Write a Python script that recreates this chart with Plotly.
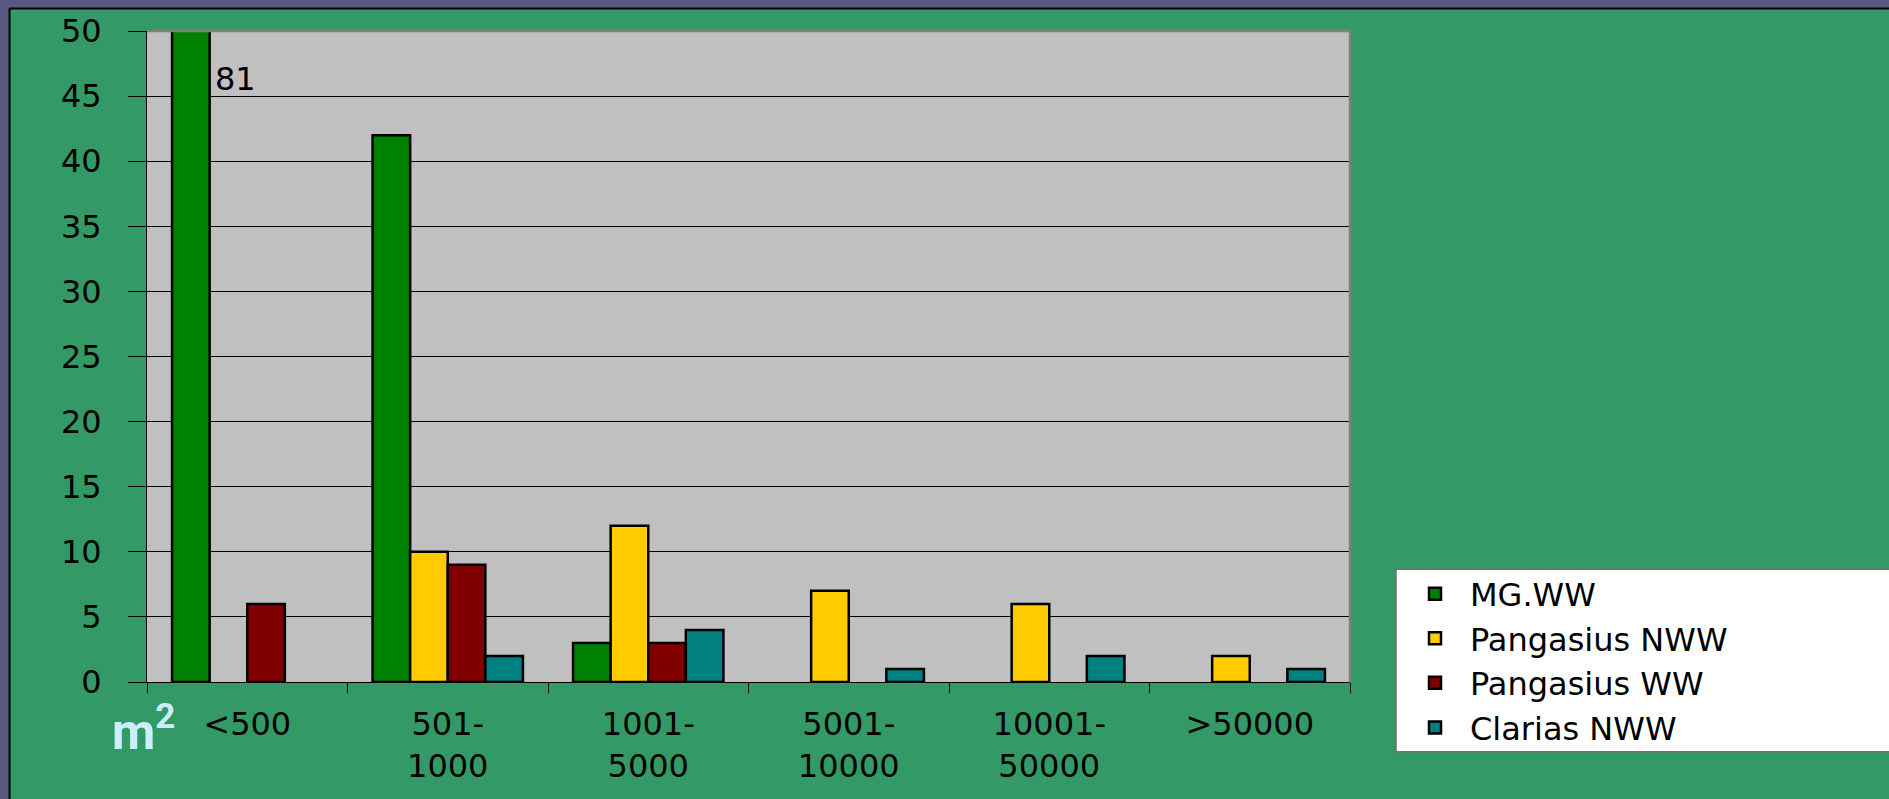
import plotly.graph_objects as go

# Pond size classes (m²) and number of farms per system
categories = ["<500", "501-1000", "1001-5000", "5001-10000", "10001-50000", ">50000"]
tick_labels = ["&lt;500", "501-<br>1000", "1001-<br>5000", "5001-<br>10000",
               "10001-<br>50000", "&gt;50000"]
mg_ww = [81, 42, 3, 0, 0, 0]
pangasius_nww = [0, 10, 12, 7, 6, 2]
pangasius_ww = [6, 9, 3, 0, 0, 0]
clarias_nww = [0, 2, 4, 1, 2, 1]

series_names = ["MG.WW", "Pangasius NWW", "Pangasius WW", "Clarias NWW"]
series_values = [mg_ww, pangasius_nww, pangasius_ww, clarias_nww]
series_colors = ["#008000", "#FFCC00", "#800000", "#008080"]

y_ticks = [0, 5, 10, 15, 20, 25, 30, 35, 40, 45, 50]

W, H = 1889, 799
ML, MR, MT, MB = 147, 539, 29, 117
PW, PH = W - ML - MR, H - MT - MB


def px_x(p):
    return (p - ML) / PW


def px_y(p):
    return (H - MB - p) / PH


FONT = "DejaVu Sans, Verdana, Arial, sans-serif"
SLIDE = "#585a82"

fig = go.Figure()
for name, vals, col in zip(series_names, series_values, series_colors):
    # empty classes are left out so no flat outline sits on the axis
    shown = [v if v else None for v in vals]
    fig.add_trace(go.Bar(
        x=categories, y=shown, name=name,
        marker=dict(color=col, line=dict(color="black", width=2.5)),
    ))

fig.update_layout(
    width=W, height=H,
    margin=dict(l=ML, r=MR, t=MT, b=MB, pad=0),
    paper_bgcolor="#339966",
    plot_bgcolor="#C0C0C0",
    barmode="group", bargap=0.25, bargroupgap=0,
    font=dict(family=FONT, size=32, color="black"),
    showlegend=True,
    legend=dict(
        x=px_x(1400), y=px_y(566), xanchor="left", yanchor="top",
        bgcolor="rgba(0,0,0,0)", borderwidth=0,
        font=dict(family=FONT, size=32, color="black"),
        itemwidth=60, traceorder="normal",
    ),
    xaxis=dict(
        type="category", categoryorder="array", categoryarray=categories,
        tickmode="array", tickvals=categories, ticktext=tick_labels,
        tickson="boundaries", ticks="outside", ticklen=10, tickcolor="black",
        tickwidth=1, showgrid=False, showline=True, linecolor="black",
        linewidth=1, ticklabelstandoff=14, zeroline=False,
        tickfont=dict(family=FONT, size=32, color="black"),
    ),
    yaxis=dict(
        range=[0, 50], tickmode="array", tickvals=y_ticks,
        ticks="outside", ticklen=18, tickcolor="black", tickwidth=1,
        showgrid=True, gridcolor="black", gridwidth=1,
        showline=True, linecolor="black", linewidth=1, zeroline=False,
        ticklabelstandoff=20,
        tickfont=dict(family=FONT, size=32, color="black"),
    ),
    shapes=[
        # slide border strips (top and left)
        dict(type="rect", xref="paper", yref="paper",
             x0=px_x(-5), x1=px_x(1900), y0=px_y(6.5), y1=px_y(-5),
             fillcolor=SLIDE, line=dict(width=0), layer="above"),
        dict(type="rect", xref="paper", yref="paper",
             x0=px_x(-5), x1=px_x(9.5), y0=px_y(810), y1=px_y(-5),
             fillcolor=SLIDE, line=dict(width=0), layer="above"),
        dict(type="line", xref="paper", yref="paper",
             x0=px_x(9.5), x1=px_x(1900), y0=px_y(6.5), y1=px_y(6.5),
             line=dict(color="black", width=2), layer="above"),
        dict(type="line", xref="paper", yref="paper",
             x0=px_x(9.5), x1=px_x(9.5), y0=px_y(810), y1=px_y(6.5),
             line=dict(color="black", width=2), layer="above"),
        # grey plot frame on top and right
        dict(type="line", xref="paper", yref="paper",
             x0=0, x1=1, y0=1, y1=1,
             line=dict(color="#808080", width=2.5), layer="above"),
        dict(type="line", xref="paper", yref="paper",
             x0=1, x1=1, y0=0, y1=1,
             line=dict(color="#808080", width=2.5), layer="above"),
        # legend box
        dict(type="rect", xref="paper", yref="paper",
             x0=px_x(1396), x1=px_x(1900), y0=px_y(752), y1=px_y(569),
             fillcolor="white", line=dict(color="#707070", width=1.5),
             layer="above"),
    ],
    annotations=[
        dict(x=categories[0], y=px_y(77), xref="x", yref="paper",
             text=str(mg_ww[0]), showarrow=False, xanchor="left",
             yanchor="middle", xshift=-34,
             font=dict(family=FONT, size=32, color="black")),
        dict(x=px_x(110), y=px_y(729), xref="paper", yref="paper",
             text="m<sup>2</sup>", showarrow=False, xanchor="left",
             yanchor="middle",
             font=dict(family="Liberation Sans Narrow, Roboto, Liberation Sans, sans-serif",
                       size=50, color="#CCEEFF", weight="bold")),
    ],
)

fig.write_html("out.html")
